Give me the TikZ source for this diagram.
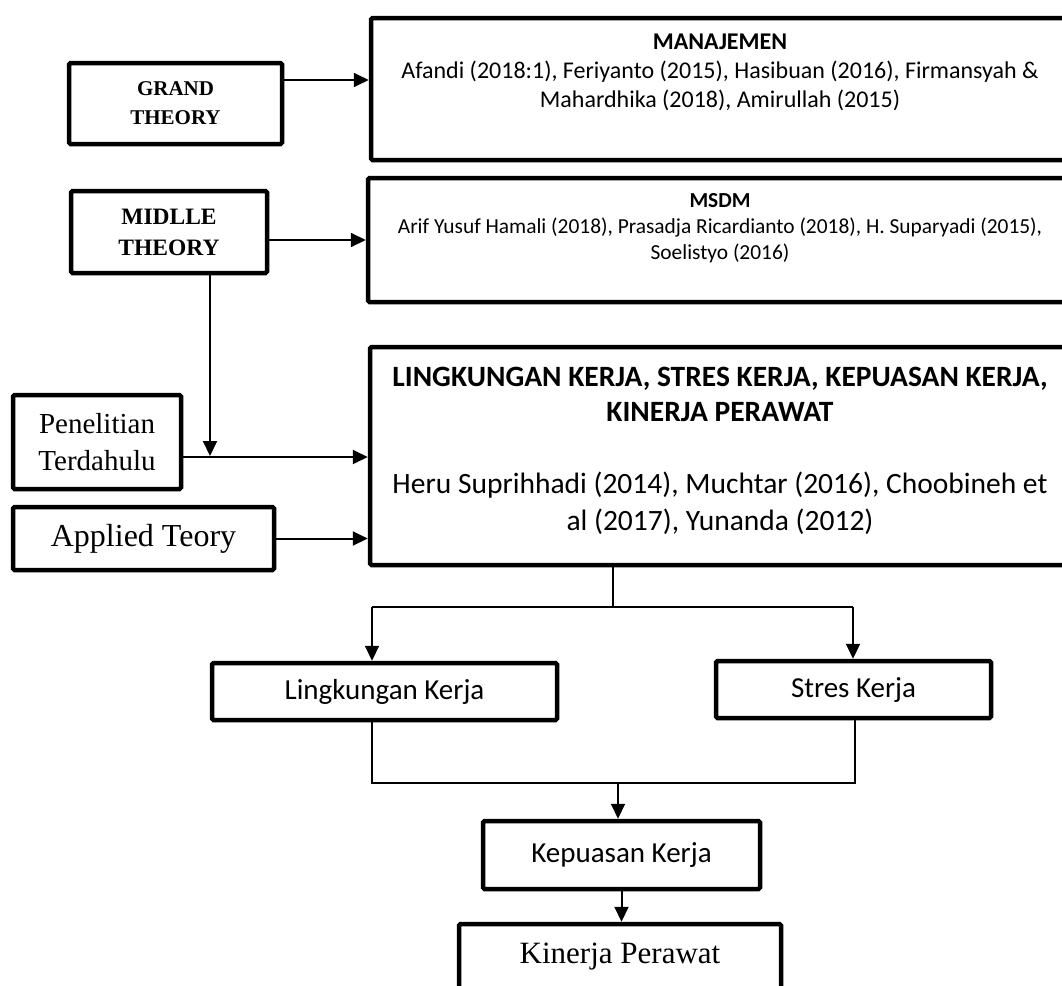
\documentclass[tikz,border=0pt]{standalone}
\usepackage{fontspec}
\setmainfont{Liberation Serif}
\newfontfamily\calibri{Carlito}
\usetikzlibrary{arrows.meta}
\tikzset{
  thickbox/.style={draw, line width=4.5pt, rounded corners=1.5pt,
                   inner sep=0pt, align=center},
  theorybox/.style={thickbox, font=\bfseries},
  reftext/.style={align=center, inner sep=0pt, font=\calibri},
  varbox/.style={thickbox, font=\calibri\fontsize{29}{35}\selectfont},
  arrow/.style={-{Triangle[length=15pt,width=14pt]}, line width=2pt},
  link/.style={line width=1.3pt},
}

\begin{document}
\begin{tikzpicture}[x=1pt, y=-1pt]

  \clip (0,0) rectangle (1062,985);
  \fill[white] (0,0) rectangle (1062,985);

  % theory levels
  \node[theorybox, minimum width=213pt, minimum height=81pt,
        font=\bfseries\fontsize{21}{29}\selectfont] (grand) at (175.5,103.5) {GRAND\\THEORY};
  \node[theorybox, minimum width=196pt, minimum height=82pt,
        font=\bfseries\fontsize{23.5}{31}\selectfont] (midlle) at (169,232) {MIDLLE\\THEORY};
  \node[thickbox, minimum width=168pt, minimum height=94pt,
        font=\fontsize{29}{37}\selectfont] (penelitian) at (97,442) {Penelitian\\Terdahulu};
  \node[thickbox, minimum width=261pt, minimum height=63pt,
        font=\fontsize{32}{38}\selectfont] (applied) at (143.5,538.5) {Applied Teory};

  % reference boxes
  \node[thickbox, minimum width=701pt, minimum height=142pt] (manaj) at (721.5,89) {};
  \node[reftext, font=\calibri\fontsize{24}{29}\selectfont] (manajtxt) at (720,72)
    {\textbf{MANAJEMEN}\\Afandi (2018:1), Feriyanto (2015), Hasibuan (2016), Firmansyah \&\\Mahardhika (2018), Amirullah (2015)};
  \node[thickbox, minimum width=704pt, minimum height=124pt] (msdm) at (720,240) {};
  \node[reftext, font=\calibri\fontsize{21.4}{26}\selectfont] (msdmtxt) at (720,228)
    {\textbf{MSDM}\\Arif Yusuf Hamali (2018), Prasadja Ricardianto (2018), H. Suparyadi (2015),\\Soelistyo (2016)};
  \node[thickbox, minimum width=702pt, minimum height=218pt] (applytheory) at (721,456) {};
  \node[reftext, font=\calibri\bfseries\fontsize{29.5}{35}\selectfont] (applyhead) at (720,394.5)
    {LINGKUNGAN KERJA, STRES KERJA, KEPUASAN KERJA,\\KINERJA PERAWAT};
  \node[reftext, font=\calibri\fontsize{29.5}{37}\selectfont] (applycite) at (720,503.5)
    {Heru Suprihhadi (2014), Muchtar (2016), Choobineh et\\al (2017), Yunanda (2012)};

  % variables
  \node[varbox, minimum width=345pt, minimum height=57pt] (lingk) at (384.5,691.5) {Lingkungan Kerja};
  \node[varbox, minimum width=275pt, minimum height=57pt] (stres) at (853.5,689.5) {Stres Kerja};
  \node[varbox, minimum width=277pt, minimum height=68pt] (kepuasan) at (621.5,855) {Kepuasan Kerja};
  \node[thickbox, minimum width=322pt, minimum height=110pt] (kinerja) at (620,979) {};
  \node[reftext, font=\fontsize{31}{37}\selectfont] (kinerjatxt) at (620,957) {Kinerja Perawat};

  \coordinate (join) at (210,456);
  \coordinate (split) at (613,607);
  \coordinate (splitL) at (372,607);
  \coordinate (splitR) at (853,607);
  \coordinate (mergeL) at (372,783);
  \coordinate (mergeR) at (855,783);
  \coordinate (merge) at (618,783);

  \draw[arrow] ([yshift=23.5pt]grand.east) -- ([yshift=23.5pt]grand.east -| manaj.west);
  \draw[arrow] ([yshift=-8pt]midlle.east) -- ([yshift=-8pt]midlle.east -| msdm.west);
  \draw[arrow] (midlle.south -| join) -- (join);
  \draw[arrow] ([yshift=-15pt]penelitian.east) -- ([yshift=-15pt]penelitian.east -| applytheory.west);
  \draw[arrow] (applied.east) -- (applied.east -| applytheory.west);

  % split to the two variables
  \draw[link] (applytheory.south -| split) -- (split);
  \draw[link] (splitL) -- (splitR);
  \draw[arrow] (splitL) -- (splitL |- lingk.north);
  \draw[arrow] (splitR) -- (splitR |- stres.north);

  % merge into kepuasan
  \draw[link] (lingk.south -| mergeL) -- (mergeL) -- (mergeR) -- (stres.south -| mergeR);
  \draw[arrow] (merge) -- (merge |- kepuasan.north);
  \draw[arrow] (kepuasan.south) -- (kepuasan.south |- kinerja.north);

\end{tikzpicture}
\end{document}
